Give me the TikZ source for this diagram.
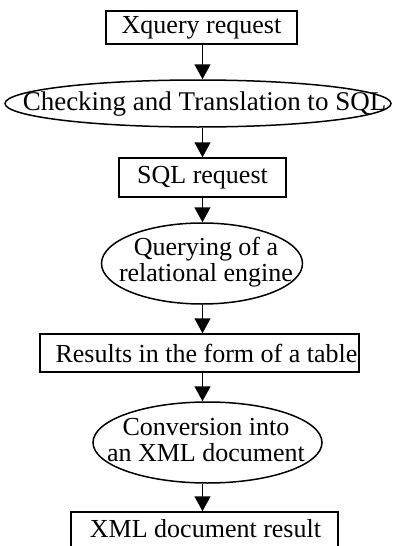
\documentclass[tikz,border=0pt]{standalone}
\usepackage{fontspec}
\setmainfont{Liberation Serif}
\usetikzlibrary{shapes.geometric,arrows.meta}
\tikzset{
  stepbox/.style={draw, line width=1.5pt, rectangle, inner sep=0pt,
    font=\fontsize{26}{26}\selectfont},
  procshape/.style={draw, line width=1.5pt, ellipse, inner sep=0pt},
  proctext/.style={align=center, inner sep=0pt,
    font=\fontsize{26}{26}\selectfont},
  flow/.style={line width=1.5pt, -{Triangle[length=15pt,width=16pt]}},
}
\begin{document}
\begin{tikzpicture}[x=1pt,y=-1pt]
  \useasboundingbox (0,0) rectangle (394,546);
  \clip (0,0) rectangle (394,546);
  \fill[white] (0,0) rectangle (394,546);

  % vertical axis the connectors run along
  \coordinate (spine) at (202.5,0);

  \node[stepbox, minimum width=191pt, minimum height=33pt] (b1) at (201.5,27.5) {Xquery request};

  \node[procshape, minimum width=386pt, minimum height=47pt] (e1) at (198,103.5) {};
  \node[proctext, font=\fontsize{27}{27}\selectfont] (e1t) at (204.5,104) {Checking and Translation to SQL};

  \node[stepbox, minimum width=167pt, minimum height=39pt] (b2) at (202.5,177.5) {SQL request};

  \node[procshape, minimum width=201pt, minimum height=81pt] (e2) at (202,263.5) {};
  \node[proctext] (e2t) at (206,262) {Querying of a\\relational engine};

  \node[stepbox, minimum width=319pt, minimum height=38pt] (b3) at (199.5,353) {\hspace*{14pt}Results in the form of a table};

  \node[procshape, minimum width=229pt, minimum height=81pt] (e3) at (207.5,442.5) {};
  \node[proctext] (e3t) at (206,440) {Conversion into\\an XML document};

  \node[stepbox, minimum width=267pt, minimum height=50pt] (b4) at (204.5,537) {};
  \node[proctext] (b4t) at (205.5,529) {XML document result};

  \draw[flow] (spine |- b1.south) -- (spine |- e1.north);
  \draw[flow] (spine |- e1.south) -- (spine |- b2.north);
  \draw[flow] (spine |- b2.south) -- (spine |- e2.north);
  \draw[flow] (spine |- e2.south) -- (spine |- b3.north);
  \draw[flow] (spine |- b3.south) -- (spine |- e3.north);
  \draw[flow] (spine |- e3.south) -- (spine |- b4.north);
\end{tikzpicture}
\end{document}
